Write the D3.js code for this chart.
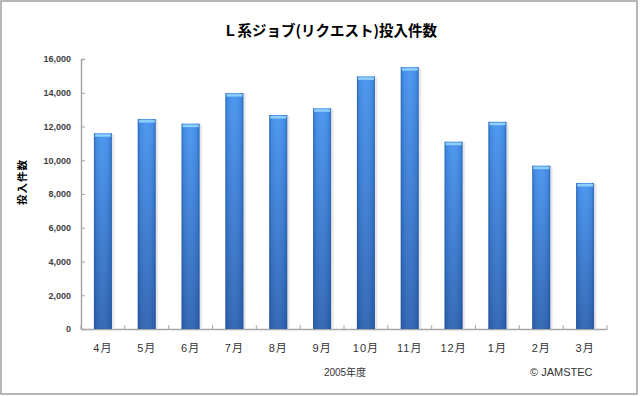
<!DOCTYPE html>
<html lang="ja">
<head>
    <meta charset="UTF-8">
    <script src="https://d3js.org/d3.v7.min.js"></script>
    <title>L系ジョブ(リクエスト)投入件数</title>
    <style>
        body { margin: 0; background: #fff; }
        svg { display: block; }
    </style>
</head>
<body>
<script>
    // Data
    const months = ["4月", "5月", "6月", "7月", "8月", "9月", "10月", "11月", "12月", "1月", "2月", "3月"];
    const counts = [11600, 12440, 12170, 13980, 12680, 13080, 14970, 15520, 11100, 12280, 9680, 8650];
    const yTicks = [0, 2000, 4000, 6000, 8000, 10000, 12000, 14000, 16000];

    const W = 640, H = 396;
    const margin = {top: 59, right: 33, bottom: 67, left: 81};
    const width = W - margin.left - margin.right;
    const height = H - margin.top - margin.bottom;
    const font = "'Liberation Sans', Arial, 'Noto Sans CJK JP', sans-serif";

    const svg = d3.select("body").append("svg")
        .attr("width", W)
        .attr("height", H);

    // gradients
    const defs = svg.append("defs");
    const vg = defs.append("linearGradient").attr("id", "barV")
        .attr("x1", 0).attr("y1", 0).attr("x2", 0).attr("y2", 1);
    vg.append("stop").attr("offset", "0%").attr("stop-color", "#4794ef");
    vg.append("stop").attr("offset", "100%").attr("stop-color", "#2f63b1");
    const hg = defs.append("linearGradient").attr("id", "barH")
        .attr("x1", 0).attr("y1", 0).attr("x2", 1).attr("y2", 0);
    hg.append("stop").attr("offset", "0%").attr("stop-color", "#1d4a8c").attr("stop-opacity", 0.6);
    hg.append("stop").attr("offset", "12%").attr("stop-color", "#1d4a8c").attr("stop-opacity", 0.1);
    hg.append("stop").attr("offset", "50%").attr("stop-color", "#ffffff").attr("stop-opacity", 0.05);
    hg.append("stop").attr("offset", "85%").attr("stop-color", "#1d4a8c").attr("stop-opacity", 0.1);
    hg.append("stop").attr("offset", "100%").attr("stop-color", "#1d4a8c").attr("stop-opacity", 0.5);

    // outer frame
    svg.append("rect")
        .attr("x", 1).attr("y", 1)
        .attr("width", 636).attr("height", 393)
        .attr("fill", "#fff")
        .attr("stroke", "#a0a0a0")
        .attr("stroke-width", 1.5);

    const g = svg.append("g")
        .attr("transform", "translate(" + margin.left + "," + margin.top + ")");

    // Axis
    const x = d3.scaleBand()
        .domain(months)
        .range([0, width])
        .paddingInner(0.59)
        .paddingOuter(0.295);

    const y = d3.scaleLinear()
        .domain([0, 16000])
        .range([height, 0]);

    const yAxis = g.append("g")
        .call(d3.axisLeft(y).tickValues(yTicks).tickSize(-4).tickPadding(10)
            .tickFormat(d3.format(",")));
    yAxis.select(".domain").attr("stroke", "#a6a6a6").attr("stroke-width", 1.5);
    yAxis.selectAll(".tick line").attr("stroke", "#a6a6a6");
    yAxis.selectAll("text")
        .attr("font-family", font)
        .attr("font-size", 9)
        .attr("font-weight", "bold")
        .attr("fill", "#404040");

    const xAxis = g.append("g")
        .attr("transform", "translate(0," + height + ")")
        .call(d3.axisBottom(x).tickSize(0).tickPadding(15));
    xAxis.select(".domain").attr("stroke", "#a6a6a6").attr("stroke-width", 1.5);
    xAxis.selectAll("text")
        .attr("font-family", font)
        .attr("font-size", 11)
        .attr("letter-spacing", 1)
        .attr("fill", "#333");

    // category boundary ticks
    xAxis.selectAll(".bound")
        .data(d3.range(months.length + 1))
        .enter().append("line")
        .attr("x1", i => x.range()[0] + i * x.step())
        .attr("x2", i => x.range()[0] + i * x.step())
        .attr("y1", 0).attr("y2", -4)
        .attr("stroke", "#a6a6a6");

    // Bars
    const bars = g.selectAll(".bar")
        .data(months.map((m, i) => ({month: m, value: counts[i]})))
        .enter().append("g");

    bars.append("rect")
        .attr("x", d => x(d.month) + 1.5)
        .attr("y", d => y(d.value) + 1)
        .attr("width", x.bandwidth() + 1)
        .attr("height", d => height - y(d.value) - 1)
        .attr("fill", "#d8d8d8")
        .attr("opacity", 0.6);
    bars.append("rect")
        .attr("x", d => x(d.month))
        .attr("y", d => y(d.value))
        .attr("width", x.bandwidth())
        .attr("height", d => height - y(d.value))
        .attr("fill", "url(#barV)");
    bars.append("rect")
        .attr("x", d => x(d.month))
        .attr("y", d => y(d.value))
        .attr("width", x.bandwidth())
        .attr("height", d => height - y(d.value))
        .attr("fill", "url(#barH)");
    bars.append("rect")
        .attr("x", d => x(d.month) + 1)
        .attr("y", d => y(d.value) + 1)
        .attr("width", x.bandwidth() - 2)
        .attr("height", 2.5)
        .attr("fill", "#8fd0fb");

    // Titles
    svg.append("text")
        .attr("x", 330).attr("y", 36)
        .attr("text-anchor", "middle")
        .attr("font-family", "'Noto Sans CJK JP', sans-serif")
        .attr("font-size", 14.5)
        .attr("font-weight", "bold")
        .attr("fill", "#000")
        .text("Ｌ系ジョブ(リクエスト)投入件数");

    svg.append("text")
        .attr("transform", "translate(26,182) rotate(-90)")
        .attr("text-anchor", "middle")
        .attr("font-family", "'Noto Sans CJK JP', sans-serif")
        .attr("font-size", 10.5)
        .attr("letter-spacing", 1)
        .attr("font-weight", "bold")
        .attr("fill", "#000")
        .text("投入件数");

    svg.append("text")
        .attr("x", 345).attr("y", 376)
        .attr("text-anchor", "middle")
        .attr("font-family", font)
        .attr("font-size", 10)
        .attr("fill", "#333")
        .text("2005年度");

    svg.append("text")
        .attr("x", 530).attr("y", 376)
        .attr("font-family", font)
        .attr("font-size", 11)
        .attr("fill", "#333")
        .text("© JAMSTEC");
</script>
</body>
</html>
